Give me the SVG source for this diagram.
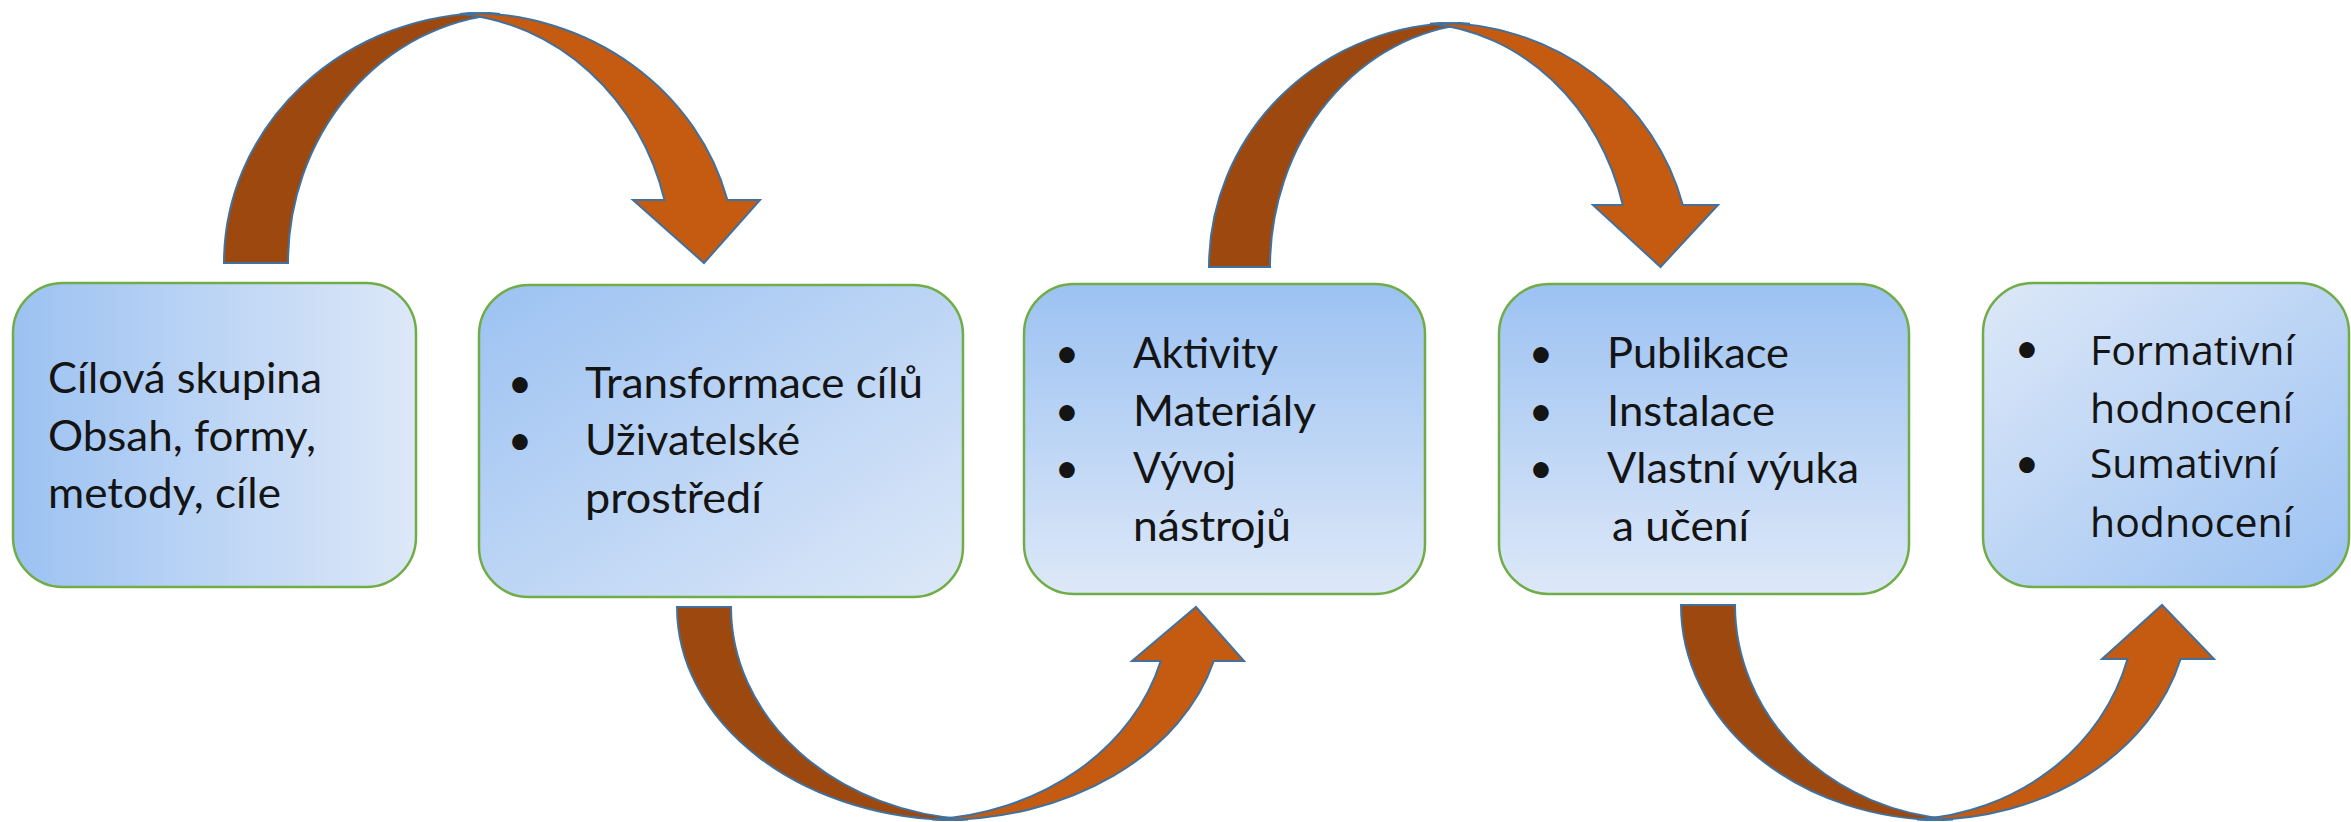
<svg xmlns="http://www.w3.org/2000/svg" width="2351" height="822" viewBox="0 0 2351 822">
<defs>
<linearGradient id="gH" x1="0" y1="0" x2="1" y2="0"><stop offset="0" stop-color="#9CC2F2"/><stop offset="1" stop-color="#DDE8F8"/></linearGradient>
<linearGradient id="gD" x1="0" y1="0" x2="1" y2="1"><stop offset="0" stop-color="#9CC2F2"/><stop offset="1" stop-color="#DDE8F8"/></linearGradient>
<linearGradient id="gV" x1="0" y1="0" x2="0" y2="1"><stop offset="0" stop-color="#9CC2F2"/><stop offset="1" stop-color="#DDE8F8"/></linearGradient>
<linearGradient id="gR" x1="0" y1="0" x2="1" y2="1"><stop offset="0" stop-color="#DDE8F8"/><stop offset="1" stop-color="#9CC2F2"/></linearGradient>
<style>
.box{stroke:#70AD47;stroke-width:2.5}
.t{font-family:Lato,"Liberation Sans",sans-serif;font-size:42px;fill:#141414}
.o{font-family:"Open Sans","Liberation Sans",sans-serif;font-size:41px;fill:#141414}
.b{text-anchor:middle}
.dk{fill:#9C480E;stroke:#41719C;stroke-width:2;stroke-linejoin:miter}
.or{fill:#C55A11;stroke:#41719C;stroke-width:2;stroke-linejoin:miter}
</style>
</defs>
<rect width="2351" height="822" fill="#FFFFFF"/>
<g id="connectors">
<path class="dk" d="M224,263 A266,250 0 0 1 490,13 L500,13.9 A232,250 0 0 0 288,263 Z"/>
<path class="or" d="M460,13.9 A232,250 0 0 1 664.5,200 L633,200 L704,263 L760,200 L727.4,200 A266,250 0 0 0 470,13 Z"/>
<path class="dk" d="M677,607 A281,213 0 0 0 958,820 L968,819.5 A254,213 0 0 1 731,607 Z"/>
<path class="or" d="M932,819.5 A254,213 0 0 0 1160.7,661 L1132,661 L1196,607 L1244,661 L1213.8,661 A281,213 0 0 1 942,820 Z"/>
<path class="dk" d="M1209,267 A251,244 0 0 1 1460,23 L1470,23.8 A218,244 0 0 0 1270,267 Z"/>
<path class="or" d="M1430,23.8 A218,244 0 0 1 1622.8,205 L1593,205 L1660.5,267 L1718,205 L1682.8,205 A251,244 0 0 0 1440,23 Z"/>
<path class="dk" d="M1681,605 A262,215 0 0 0 1943,820 L1953,819.4 A235,215 0 0 1 1735,605 Z"/>
<path class="or" d="M1917,819.4 A235,215 0 0 0 2127.5,659 L2102,659 L2162,605 L2214,659 L2180.6,659 A262,215 0 0 1 1927,820 Z"/>
</g>
<g id="node1">
<rect class="box" x="13" y="283" width="403" height="304" rx="50" fill="url(#gH)"/>
<text class="t" x="48" y="393" textLength="274" lengthAdjust="spacingAndGlyphs">Cílová skupina</text>
<text class="t" x="48" y="451" textLength="268" lengthAdjust="spacingAndGlyphs">Obsah, formy,</text>
<text class="t" x="48" y="508" textLength="233" lengthAdjust="spacingAndGlyphs">metody, cíle</text>
</g>
<g id="node2">
<rect class="box" x="479" y="285" width="484" height="312" rx="50" fill="url(#gD)"/>
<text class="t b" x="520" y="398">•</text>
<text class="t b" x="520" y="455">•</text>
<text class="t" x="585" y="398" textLength="338" lengthAdjust="spacingAndGlyphs">Transformace cílů</text>
<text class="t" x="585" y="455" textLength="215" lengthAdjust="spacingAndGlyphs">Uživatelské</text>
<text class="t" x="585" y="513" textLength="177" lengthAdjust="spacingAndGlyphs">prostředí</text>
</g>
<g id="node3">
<rect class="box" x="1024" y="284" width="401" height="310" rx="50" fill="url(#gV)"/>
<text class="t b" x="1067" y="368">•</text>
<text class="t b" x="1067" y="426">•</text>
<text class="t b" x="1067" y="483">•</text>
<text class="t" x="1133" y="368" textLength="145" lengthAdjust="spacingAndGlyphs">Aktivity</text>
<text class="t" x="1133" y="426" textLength="183" lengthAdjust="spacingAndGlyphs">Materiály</text>
<text class="t" x="1133" y="483" textLength="103" lengthAdjust="spacingAndGlyphs">Vývoj</text>
<text class="t" x="1133" y="541" textLength="158" lengthAdjust="spacingAndGlyphs">nástrojů</text>
</g>
<g id="node4">
<rect class="box" x="1499" y="284" width="410" height="310" rx="50" fill="url(#gV)"/>
<text class="t b" x="1541" y="368">•</text>
<text class="t b" x="1541" y="426">•</text>
<text class="t b" x="1541" y="483">•</text>
<text class="t" x="1607" y="368" textLength="182" lengthAdjust="spacingAndGlyphs">Publikace</text>
<text class="t" x="1607" y="426" textLength="168" lengthAdjust="spacingAndGlyphs">Instalace</text>
<text class="t" x="1607" y="483" textLength="252" lengthAdjust="spacingAndGlyphs">Vlastní výuka</text>
<text class="t" x="1612" y="541" textLength="137" lengthAdjust="spacingAndGlyphs">a učení</text>
</g>
<g id="node5">
<rect class="box" x="1983" y="283" width="366" height="304" rx="50" fill="url(#gR)"/>
<text class="t b" x="2027" y="363">•</text>
<text class="t b" x="2027" y="478">•</text>
<text class="o" x="2090" y="365" textLength="205" lengthAdjust="spacingAndGlyphs">Formativní</text>
<text class="o" x="2090" y="423" textLength="203" lengthAdjust="spacingAndGlyphs">hodnocení</text>
<text class="o" x="2090" y="478" textLength="188" lengthAdjust="spacingAndGlyphs">Sumativní</text>
<text class="o" x="2090" y="537" textLength="203" lengthAdjust="spacingAndGlyphs">hodnocení</text>
</g>
</svg>
